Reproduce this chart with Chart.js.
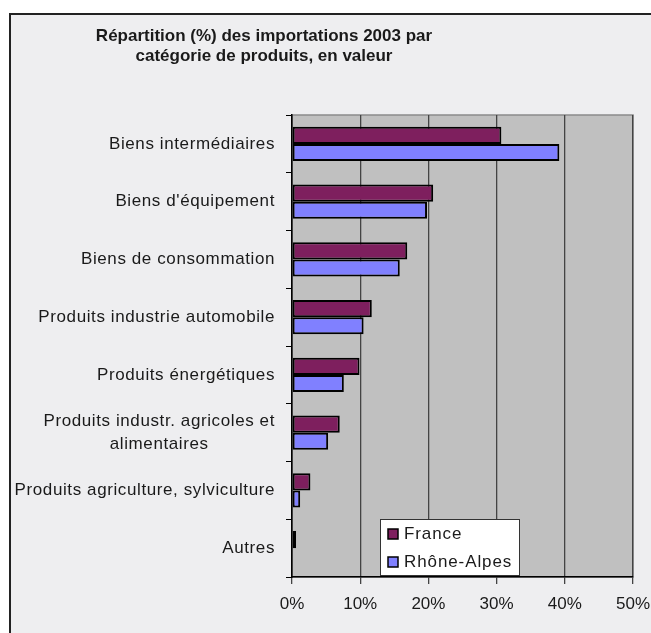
<!DOCTYPE html>
<html>
<head>
<meta charset="utf-8">
<script src="https://cdn.jsdelivr.net/npm/chart.js@4/dist/chart.umd.min.js"></script>
<style>
    html, body { margin: 0; padding: 0; background: #fff; }
    #wrap { width: 651px; height: 633px; position: relative; }
</style>
</head>
<body>
<div id="wrap"><canvas id="chart" width="651" height="633"></canvas></div>
<script>
// données
const categories = [
    "Biens intermédiaires",
    "Biens d'équipement",
    "Biens de consommation",
    "Produits industrie automobile",
    "Produits énergétiques",
    ["Produits industr. agricoles et", "alimentaires"],
    "Produits agriculture, sylviculture",
    "Autres",
];
const franceValues = [30.7, 20.7, 16.9, 11.7, 9.9, 7.0, 2.7, 0.6];
const rhoneAlpesValues = [39.2, 19.8, 15.8, 10.5, 7.6, 5.3, 1.2, 0];
const seriesNames = ["France", "Rhône-Alpes"];
const xTicks = [0, 10, 20, 30, 40, 50];
const titleLines = ["Répartition (%) des importations 2003 par", "catégorie de produits, en valeur"];

const FONT = "'Liberation Sans', Arial, sans-serif";
const colors = { france: "#7e1f5e", ra: "#8080ff", plot: "#c0c0c0", bg: "#eeeef0", text: "#1a1a1a" };

// fond + cadre + zone de tracé
const backgroundPlugin = {
    id: "bgFrame",
    beforeDraw(chart) {
        const { ctx, chartArea: a } = chart;
        ctx.save();
        ctx.fillStyle = "#ffffff";
        ctx.fillRect(0, 0, chart.width, chart.height);
        ctx.fillStyle = colors.bg;
        ctx.fillRect(9, 13, chart.width, chart.height);
        ctx.strokeStyle = "#222";
        ctx.lineWidth = 2;
        ctx.beginPath();
        ctx.moveTo(10, chart.height + 5);
        ctx.lineTo(10, 14);
        ctx.lineTo(chart.width + 5, 14);
        ctx.stroke();
        ctx.fillStyle = colors.plot;
        ctx.fillRect(a.left, a.top, a.right - a.left, a.bottom - a.top);
        ctx.strokeStyle = "#8a8a8a";
        ctx.lineWidth = 1.5;
        ctx.strokeRect(a.left, a.top, a.right - a.left, a.bottom - a.top);
        ctx.restore();
    },
};

// titre + étiquettes de catégories + légende
const textPlugin = {
    id: "texts",
    afterDraw(chart) {
        const { ctx, chartArea: a } = chart;
        const yScale = chart.scales.y;
        ctx.save();
        ctx.fillStyle = colors.text;
        ctx.textBaseline = "middle";

        // titre
        ctx.font = "bold 17px " + FONT;
        ctx.letterSpacing = "0px";
        ctx.textAlign = "center";
        titleLines.forEach((t, i) => ctx.fillText(t, 264, 36 + i * 20));

        // étiquettes de l'axe vertical
        ctx.font = "17px " + FONT;
        ctx.letterSpacing = "0.6px";
        categories.forEach((label, i) => {
            const lines = Array.isArray(label) ? label : [label];
            const y = yScale.getPixelForValue(i);
            const widest = Math.max(...lines.map(l => ctx.measureText(l).width));
            const cx = a.left - 17 - widest / 2;
            const lh = 23;
            lines.forEach((l, j) => {
                ctx.fillText(l, cx, y + (j - (lines.length - 1) / 2) * lh);
            });
        });

        // légende
        const lx = 380, ly = 519, lw = 140, lhgt = 57;
        ctx.fillStyle = "#ffffff";
        ctx.fillRect(lx, ly, lw, lhgt);
        ctx.strokeStyle = "#333";
        ctx.lineWidth = 1;
        ctx.strokeRect(lx + 0.5, ly + 0.5, lw - 1, lhgt - 1);
        ctx.letterSpacing = "0.9px";
        [colors.france, colors.ra].forEach((c, i) => {
            const yy = ly + 15 + i * 28;
            ctx.fillStyle = c;
            ctx.fillRect(lx + 8, yy - 5, 10, 10);
            ctx.strokeStyle = "#000";
            ctx.lineWidth = 1.5;
            ctx.strokeRect(lx + 8, yy - 5, 10, 10);
            ctx.fillStyle = colors.text;
            ctx.textAlign = "left";
            ctx.fillText(seriesNames[i], lx + 24, yy);
        });
        ctx.restore();
    },
};

new Chart(document.getElementById("chart"), {
    type: "bar",
    data: {
        labels: categories,
        datasets: [
            {
                label: seriesNames[0],
                data: franceValues,
                backgroundColor: colors.france,
                borderColor: "#000",
                borderWidth: 2,
                borderSkipped: false,
                categoryPercentage: 0.59,
                barPercentage: 1.0,
            },
            {
                label: seriesNames[1],
                data: rhoneAlpesValues,
                backgroundColor: colors.ra,
                borderColor: "#000",
                borderWidth: 2,
                borderSkipped: false,
                categoryPercentage: 0.59,
                barPercentage: 1.0,
            },
        ],
    },
    options: {
        indexAxis: "y",
        responsive: false,
        animation: false,
        layout: { padding: { top: 115, right: 18, left: 0, bottom: 0 } },
        plugins: {
            legend: { display: false },
            title: { display: false },
            tooltip: { enabled: false },
        },
        scales: {
            y: {
                ticks: { display: false },
                grid: { drawOnChartArea: false, drawTicks: true, tickLength: 6, color: "#000", offset: true },
                border: { color: "#000", width: 1.5 },
                afterFit(scale) { scale.width = 292; },
            },
            x: {
                min: xTicks[0],
                max: xTicks[xTicks.length - 1],
                afterBuildTicks(scale) { scale.ticks = xTicks.map(v => ({ value: v })); },
                ticks: {
                    color: colors.text,
                    font: { family: FONT, size: 17 },
                    padding: 10,
                    callback: v => v + "%",
                },
                grid: { color: "#444", lineWidth: 1.3, tickLength: 7 },
                border: { color: "#000", width: 1.5 },
                afterFit(scale) {
                    scale.height = 56;
                    scale.paddingLeft = 0;
                    scale.paddingRight = 0;
                },
            },
        },
    },
    plugins: [backgroundPlugin, textPlugin],
});
</script>
</body>
</html>
